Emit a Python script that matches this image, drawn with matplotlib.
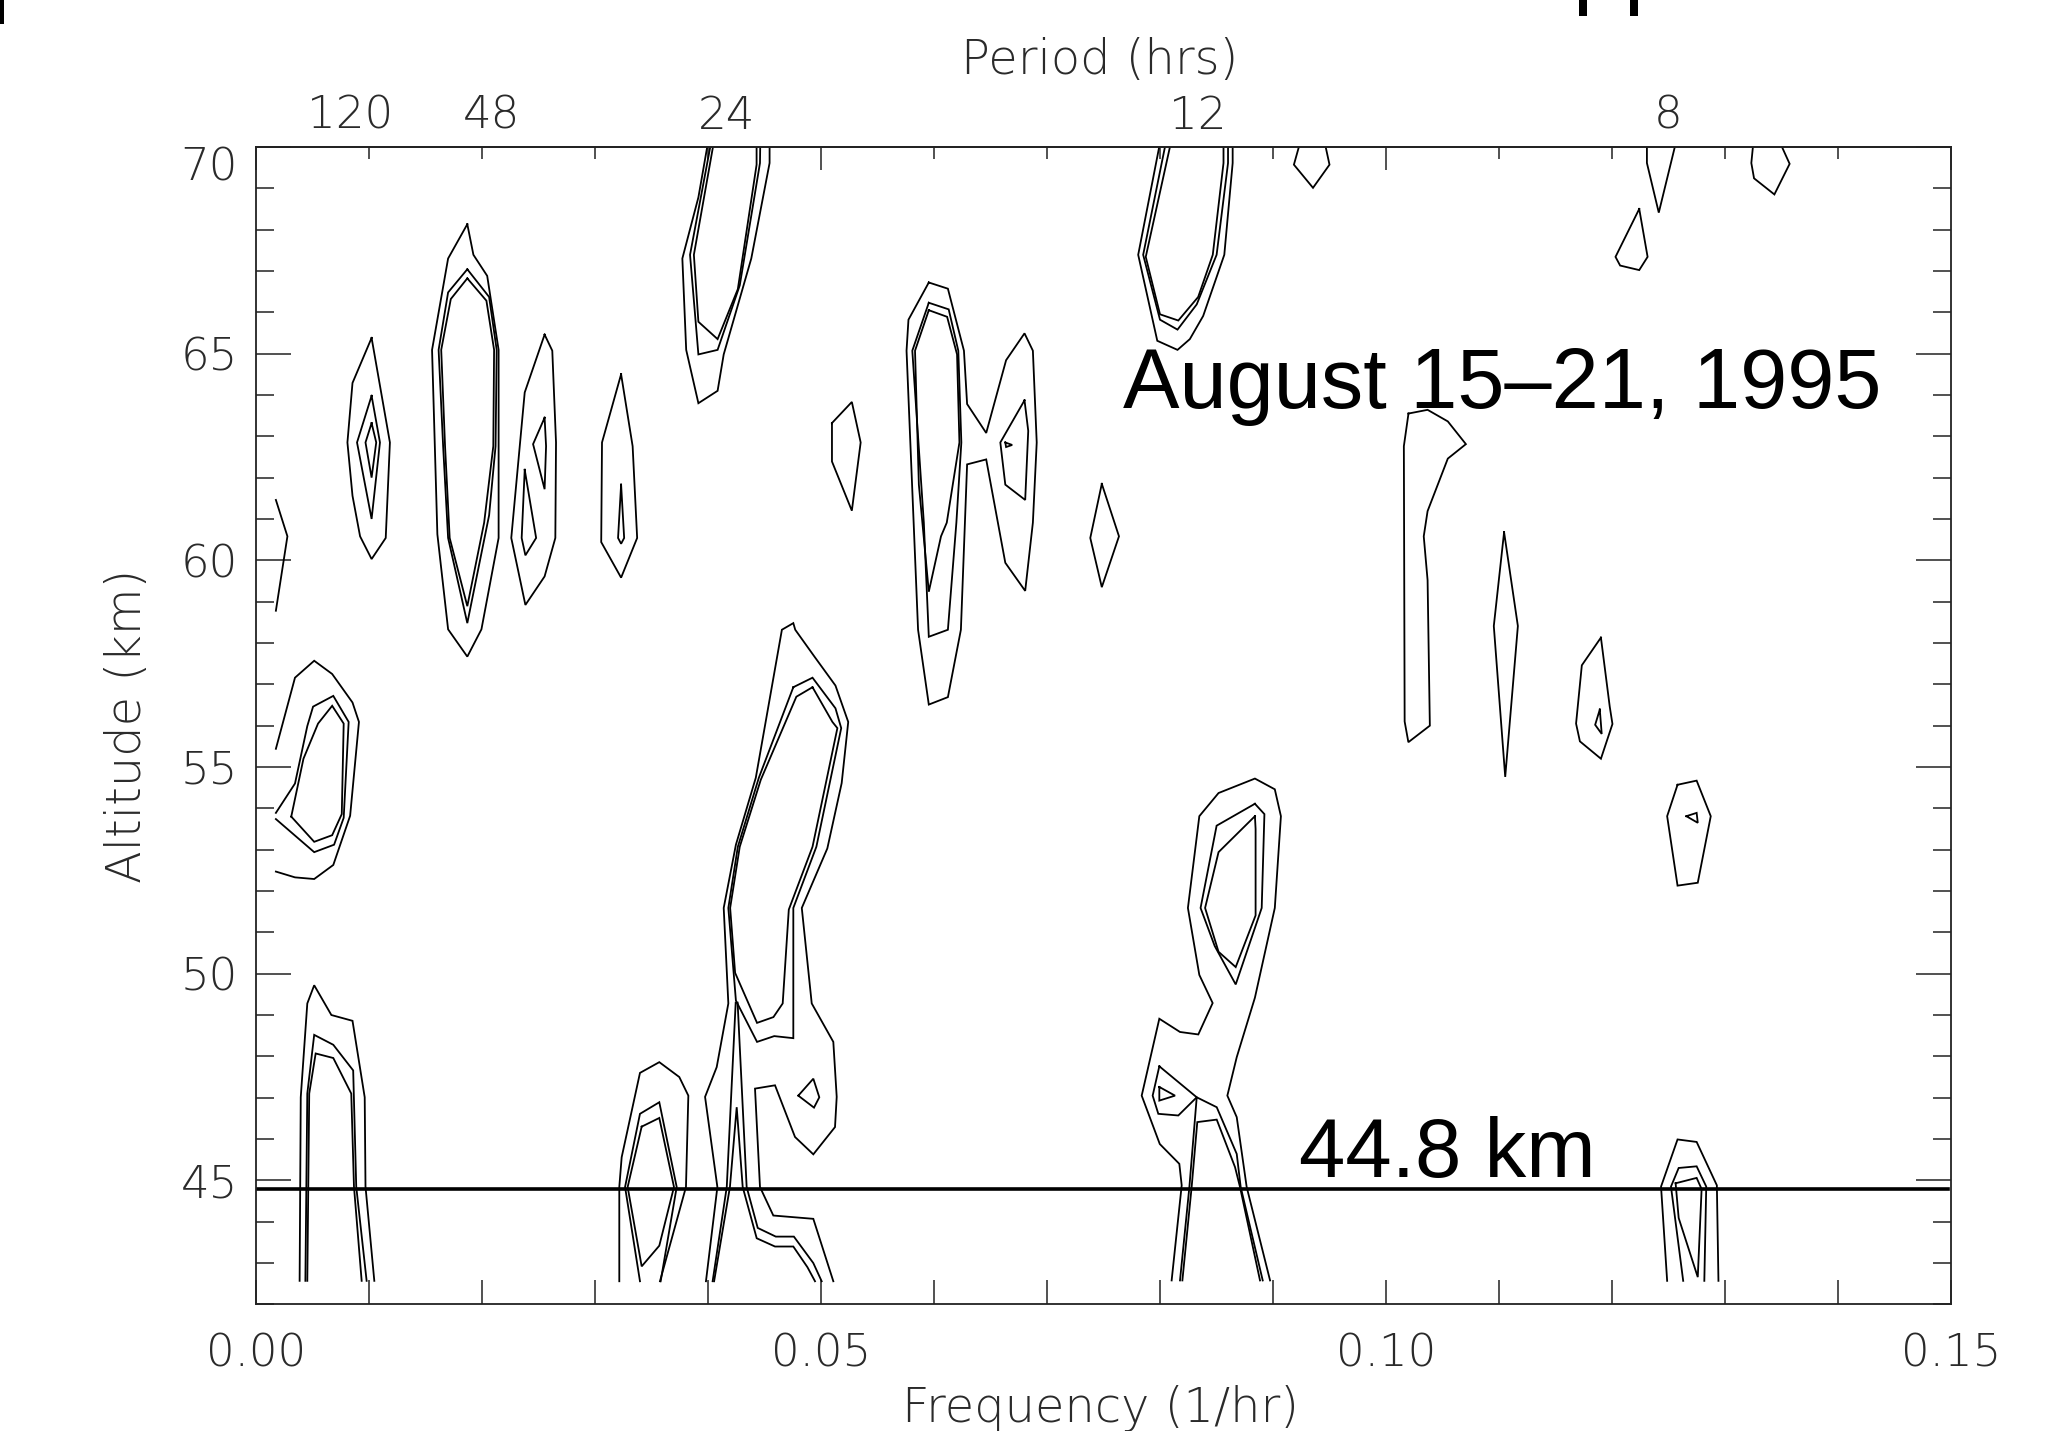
import matplotlib
matplotlib.use("Agg")
import matplotlib.pyplot as plt
from matplotlib.patches import Rectangle
import numpy as np

# ---------------- data ----------------
freq_limits = (0.0, 0.15)
alt_limits = (42.0, 70.0)
freq_major = [0.00, 0.05, 0.10, 0.15]
freq_major_labels = ["0.00", "0.05", "0.10", "0.15"]
alt_major = [45, 50, 55, 60, 65, 70]
alt_major_labels = ["45", "50", "55", "60", "65", "70"]
period_hours = [120, 48, 24, 12, 8]
period_labels = ["120", "48", "24", "12", "8"]
reference_altitude = 44.8
reference_label = "44.8 km"
date_label = "August 15\u201321, 1995"

# closed contour loops (frequency 1/hr, altitude km)
closed_contours = [
    # 120 h blob
    [(0.01023,65.38),(0.00854,64.29),(0.00809,62.85),(0.00854,61.56),(0.00921,60.58),(0.01023,60.03),(0.01148,60.54),(0.01185,62.85)],
    [(0.01023,63.98),(0.00894,62.85),(0.01023,61.00),(0.01097,62.85)],
    [(0.01023,63.32),(0.00969,62.85),(0.01023,62.00),(0.01064,62.85)],
    # 48 h blob
    [(0.01870,68.13),(0.01700,67.30),(0.01558,65.09),(0.01605,60.63),(0.01700,58.33),(0.01870,57.67),(0.01995,58.33),(0.02147,60.54),(0.02147,65.09),(0.02046,66.88),(0.01924,67.39)],
    [(0.01870,67.04),(0.01700,66.48),(0.01616,65.09),(0.01656,62.76),(0.01700,60.54),(0.01870,58.48),(0.02063,61.09),(0.02120,62.76),(0.02130,65.09),(0.02063,66.37)],
    [(0.01870,66.82),(0.01724,66.32),(0.01639,65.09),(0.01673,62.76),(0.01714,60.54),(0.01870,58.89),(0.02019,60.91),(0.02100,62.76),(0.02107,65.09),(0.02039,66.28)],
    # ~0.025
    [(0.02554,65.46),(0.02378,64.06),(0.02259,60.54),(0.02384,58.92),(0.02554,59.61),(0.02649,60.54),(0.02655,62.85),(0.02622,65.07)],
    [(0.02554,63.45),(0.02452,62.81),(0.02554,61.72),(0.02567,62.76)],
    [(0.02378,62.19),(0.02351,60.54),(0.02384,60.12),(0.02479,60.54)],
    # ~0.032
    [(0.03231,64.50),(0.03062,62.85),(0.03055,60.44),(0.03231,59.58),(0.03373,60.54),(0.03333,62.76)],
    [(0.03231,61.83),(0.03204,60.54),(0.03231,60.40),(0.03258,60.54)],
    # low-frequency blob inner
    [(0.00312,53.80),(0.00420,55.20),(0.00549,56.05),(0.00674,56.48),(0.00776,56.05),(0.00759,53.86),(0.00674,53.35),(0.00515,53.19)],
    # ~0.052 diamond
    [(0.05097,63.32),(0.05273,63.83),(0.05351,62.85),(0.05273,61.20),(0.05097,62.39)],
    # ~0.06 / 0.067 pair
    [(0.05954,66.72),(0.06123,66.57),(0.06265,65.07),(0.06293,63.78),(0.06462,63.08),(0.06638,64.84),(0.06801,65.49),(0.06875,65.07),(0.06909,62.85),(0.06875,60.91),(0.06807,59.26),(0.06631,59.94),(0.06462,62.44),(0.06293,62.32),(0.06238,58.32),(0.06123,56.69),(0.05954,56.51),(0.05859,58.32),(0.05757,65.07),(0.05774,65.82)],
    [(0.05954,66.23),(0.06130,66.07),(0.06215,65.07),(0.06242,62.85),(0.06198,60.91),(0.06123,58.32),(0.05954,58.15),(0.05910,60.91),(0.05808,65.07)],
    [(0.05954,66.05),(0.06116,65.89),(0.06204,64.98),(0.06225,62.85),(0.06113,60.91),(0.06062,60.58),(0.05954,59.24),(0.05866,61.83),(0.05832,65.07)],
    [(0.06801,63.87),(0.06587,62.85),(0.06631,61.83),(0.06807,61.46),(0.06834,63.13)],
    [(0.06631,62.85),(0.06692,62.79),(0.06638,62.74)],
    # ~0.075 diamond
    [(0.07485,61.85),(0.07383,60.54),(0.07485,59.35),(0.07637,60.58)],
    # ~0.103 tall blob
    [(0.10199,63.55),(0.10368,63.64),(0.10547,63.36),(0.10707,62.81),(0.10547,62.46),(0.10368,61.19),(0.10334,60.58),(0.10368,59.52),(0.10388,56.00),(0.10198,55.60),(0.10165,56.10),(0.10158,62.76)],
    # ~0.111
    [(0.11045,60.68),(0.10954,58.41),(0.11055,54.76),(0.11167,58.41)],
    # ~0.118
    [(0.11902,58.13),(0.11733,57.46),(0.11682,56.05),(0.11716,55.62),(0.11902,55.20),(0.12004,56.04),(0.11980,56.46)],
    [(0.11892,56.39),(0.11851,56.02),(0.11909,55.80)],
    # ~0.122 top
    [(0.12241,68.50),(0.12031,67.34),(0.12072,67.13),(0.12241,67.02),(0.12315,67.34)],
    # ~0.035 low
    [(0.03413,46.30),(0.03569,46.51),(0.03699,44.84),(0.03569,43.42),(0.03413,42.92),(0.03289,44.84)],
    # 24 h lower blob, upper lobe
    [(0.04755,56.93),(0.04450,54.74),(0.04264,53.07),(0.04180,51.59),(0.04247,49.35),(0.04434,48.35),(0.04586,48.49),(0.04755,48.44),(0.04755,51.59),(0.04959,53.07),(0.05179,55.94),(0.05128,56.42),(0.04925,57.16)],
    [(0.04925,56.93),(0.04782,56.70),(0.04467,54.69),(0.04281,53.07),(0.04196,51.59),(0.04240,50.02),(0.04434,48.81),(0.04579,48.95),(0.04661,49.28),(0.04715,51.55),(0.04925,53.07),(0.05145,55.94),(0.05101,56.09)],
    [(0.04799,47.05),(0.04932,47.46),(0.04985,47.01),(0.04938,46.76)],
    # 12 h lower blob
    [(0.07994,47.76),(0.08325,47.01),(0.08162,46.57),(0.07985,46.61),(0.07935,47.05)],
    [(0.07994,47.26),(0.08133,47.05),(0.07994,46.93)],
    [(0.08840,54.11),(0.08501,53.58),(0.08359,51.59),(0.08484,50.67),(0.08670,49.74),(0.08900,51.59),(0.08924,53.86)],
    [(0.08840,53.81),(0.08518,52.94),(0.08399,51.59),(0.08518,50.53),(0.08670,50.16),(0.08846,51.41),(0.08846,53.50)],
    # 8 h
    [(0.12563,44.93),(0.12749,45.06),(0.12793,44.79),(0.12759,42.66),(0.12590,44.09)],
    [(0.12580,54.57),(0.12749,54.67),(0.12874,53.81),(0.12759,52.20),(0.12580,52.13),(0.12488,53.81)],
    [(0.12658,53.81),(0.12749,53.89),(0.12759,53.65)],
]

# open contour paths (cut by the data/plot boundary)
open_contours = [
    [(0.00176,61.46),(0.00278,60.58),(0.00176,58.78)],
    # 24 h top
    [(0.03993,70.0),(0.03915,68.78),(0.03773,67.30),(0.03807,65.09),(0.03915,63.80),(0.04085,64.10),(0.04139,64.98),(0.04383,67.30),(0.04545,69.61),(0.04545,70.0)],
    [(0.04020,70.0),(0.03841,67.39),(0.03915,64.98),(0.04085,65.09),(0.04281,66.65),(0.04460,69.61),(0.04462,70.0)],
    [(0.04044,70.0),(0.03875,67.39),(0.03915,65.77),(0.04085,65.35),(0.04264,66.56),(0.04430,69.57),(0.04430,70.0)],
    # low-frequency blob
    [(0.00176,55.44),(0.00345,57.16),(0.00515,57.57),(0.00674,57.25),(0.00854,56.56),(0.00911,56.09),(0.00833,53.82),(0.00684,52.63),(0.00515,52.29),(0.00345,52.33),(0.00176,52.47)],
    [(0.00176,53.89),(0.00345,54.60),(0.00454,55.99),(0.00505,56.46),(0.00684,56.72),(0.00820,56.09),(0.00776,53.77),(0.00691,53.12),(0.00515,52.94),(0.00176,53.74)],
    # 12 h top
    [(0.07993,70.0),(0.07807,67.39),(0.07976,65.31),(0.08155,65.09),(0.08264,65.35),(0.08382,65.91),(0.08569,67.39),(0.08643,69.61),(0.08643,70.0)],
    [(0.08044,70.0),(0.07851,67.39),(0.08000,65.82),(0.08155,65.58),(0.08325,66.19),(0.08501,67.39),(0.08602,69.61),(0.08602,70.0)],
    [(0.08088,70.0),(0.07874,67.34),(0.08000,65.95),(0.08162,65.80),(0.08338,66.37),(0.08467,67.39),(0.08562,69.61),(0.08562,70.0)],
    [(0.09229,70.0),(0.09185,69.57),(0.09354,69.01),(0.09500,69.57),(0.09466,70.0)],
    # 8 h top
    [(0.12309,70.0),(0.12309,69.61),(0.12414,68.41),(0.12556,70.0)],
    [(0.13247,70.0),(0.13233,69.61),(0.13257,69.24),(0.13437,68.85),(0.13572,69.59),(0.13504,70.0)],
    # bottom, low frequency
    [(0.00386,42.57),(0.00396,47.01),(0.00454,49.28),(0.00515,49.72),(0.00667,49.00),(0.00854,48.86),(0.00962,47.01),(0.00969,44.85),(0.01047,42.57)],
    [(0.00437,42.57),(0.00454,47.10),(0.00515,48.52),(0.00684,48.28),(0.00860,47.66),(0.00887,44.85),(0.00979,42.57)],
    [(0.00454,42.57),(0.00471,47.10),(0.00528,48.07),(0.00684,47.96),(0.00843,47.10),(0.00867,44.85),(0.00935,42.57)],
    # ~0.035 low
    [(0.03215,42.56),(0.03215,44.84),(0.03236,45.56),(0.03398,47.60),(0.03569,47.86),(0.03746,47.50),(0.03826,47.05),(0.03805,44.84),(0.03575,42.56)],
    [(0.03398,42.56),(0.03266,44.84),(0.03398,46.61),(0.03569,46.89),(0.03723,44.84),(0.03581,42.56)],
    # 24 h lower blob outer
    [(0.03982,42.56),(0.04083,44.84),(0.03974,47.02),(0.04077,47.74),(0.04180,49.28),(0.04139,51.59),(0.04247,53.12),(0.04423,54.74),(0.04654,58.32),(0.04755,58.48),(0.04772,58.32),(0.04942,57.67),(0.05128,56.97),(0.05241,56.09),(0.05183,54.61),(0.05056,53.03),(0.04830,51.59),(0.04918,49.28),(0.05109,48.35),(0.05139,47.02),(0.05124,46.29),(0.04932,45.63),(0.04770,46.05),(0.04593,47.30),(0.04416,47.22),(0.04460,44.84),(0.04578,44.15),(0.04932,44.07),(0.05109,42.56)],
    [(0.04054,42.56),(0.04194,44.84),(0.04254,46.77),(0.04307,44.84),(0.04431,43.60),(0.04593,43.40),(0.04755,43.40),(0.04880,42.90),(0.04947,42.56)],
    [(0.04041,42.56),(0.04166,44.84),(0.04245,49.30),(0.04262,49.30),(0.04342,44.84),(0.04440,43.85),(0.04600,43.64),(0.04760,43.64),(0.04932,43.00),(0.05006,42.56)],
    # 12 h lower blob
    [(0.08103,42.58),(0.08192,44.88),(0.08171,45.40),(0.07998,45.88),(0.07838,47.05),(0.07994,48.91),(0.08177,48.59),(0.08339,48.53),(0.08466,49.29),(0.08348,49.97),(0.08247,51.59),(0.08348,53.81),(0.08518,54.37),(0.08840,54.72),(0.09016,54.46),(0.09070,53.81),(0.09016,51.59),(0.08840,49.42),(0.08679,47.98),(0.08596,47.05),(0.08679,46.53),(0.08767,44.84),(0.08974,42.58)],
    [(0.08177,42.58),(0.08260,44.84),(0.08325,47.01),(0.08502,46.77),(0.08679,45.64),(0.08714,44.84),(0.08909,42.58)],
    [(0.08198,42.58),(0.08280,44.84),(0.08330,46.41),(0.08502,46.47),(0.08664,45.32),(0.08708,44.84),(0.08885,42.58)],
    # 8 h lower
    [(0.12488,42.57),(0.12434,44.85),(0.12580,45.99),(0.12749,45.93),(0.12928,44.88),(0.12942,42.57)],
    [(0.12630,42.57),(0.12522,44.85),(0.12590,45.30),(0.12749,45.34),(0.12834,44.85),(0.12817,42.57)],
]

# ---------------- figure ----------------
W, H, DPI = 2046, 1431, 100
fig = plt.figure(figsize=(W / DPI, H / DPI), dpi=DPI, facecolor="white")
ax = fig.add_axes([256 / W, 1 - 1304.4 / H, 1695 / W, (1304.4 - 146.9) / H])

line_kw = dict(color="black", lw=1.3, solid_joinstyle="miter")
for loop in closed_contours:
    pts = loop + [loop[0]]
    ax.plot([p[0] for p in pts], [p[1] for p in pts], **line_kw)
for path in open_contours:
    ax.plot([p[0] for p in path], [p[1] for p in path], **line_kw)

ax.axhline(reference_altitude, xmin=0.0, xmax=0.998, color="black", lw=2.6)

ax.set_xlim(*freq_limits)
ax.set_ylim(*alt_limits)

TXT = "#2a2a2a"
tick_font = dict(family="DejaVu Sans", size=32.5, color=TXT, weight="light")
ax.set_xticks(freq_major)
ax.set_xticklabels(freq_major_labels, fontdict=tick_font)
ax.set_xticks(np.arange(0.0, 0.1501, 0.01), minor=True)
ax.set_yticks(alt_major)
ylabels = ax.set_yticklabels(alt_major_labels, fontdict=tick_font)
ax.set_yticks(np.arange(42, 70.5, 1.0), minor=True)
for lbl in ylabels:
    if lbl.get_text() == "70":
        lbl.set_verticalalignment("top")

ax.tick_params(axis="x", which="both", direction="in", bottom=True, top=False,
               length=17, width=1.1, pad=20, color="#222222")
ax.tick_params(axis="y", which="major", direction="in", left=True, right=True,
               length=25, width=1.1, pad=13, color="#222222")
ax.tick_params(axis="y", which="minor", direction="in", left=True, right=True,
               length=13, width=1.1, color="#222222")
for s in ax.spines.values():
    s.set_linewidth(1.3)
    s.set_color("#222222")

# top axis: same frequency ticks, shorter, labelled in period
sec = ax.secondary_xaxis("top")
sec.set_xticks(freq_major)
sec.set_xticklabels([])
sec.set_xticks(np.arange(0.0, 0.1501, 0.01), minor=True)
sec.tick_params(axis="x", which="major", direction="in", length=16.5, width=1.1, color="#222222")
sec.tick_params(axis="x", which="minor", direction="in", length=8.3, width=1.1, color="#222222")
sec.spines["top"].set_linewidth(1.3)
sec.spines["top"].set_color("#222222")

xt = ax.get_xaxis_transform()
for p, lab in zip(period_hours, period_labels):
    ax.text(1.0 / p, 1.0155, lab, transform=xt, ha="center", va="baseline",
            fontfamily="DejaVu Sans", fontweight="light", fontsize=32.5, color=TXT)

label_font = dict(fontfamily="DejaVu Sans", fontweight="light", fontsize=34.5, color=TXT)
ax.text(0.498, 1.0632, "Period (hrs)", transform=ax.transAxes, ha="center", va="baseline", **label_font)
ax.text(0.498, -0.102, "Frequency (1/hr)", transform=ax.transAxes, ha="center", va="baseline", **label_font)
ax.text(-0.0761, 0.5, "Altitude (km)", transform=ax.transAxes, ha="center", va="center",
        rotation=90, **label_font)

ax.text(0.07671, 63.68, date_label, ha="left", va="baseline",
        fontfamily="Liberation Sans", fontsize=61, color="black")
ax.text(0.09229, 45.07, reference_label, ha="left", va="baseline",
        fontfamily="Liberation Sans", fontsize=60, color="black")

# fragments of the slide above, cropped at the top edge
for (x0, w, h) in [(0, 4, 24), (1579, 8, 16), (1630, 8, 16)]:
    fig.add_artist(Rectangle((x0 / W, 1 - h / H), w / W, h / H, transform=fig.transFigure,
                             facecolor="black", edgecolor="none"))

fig.savefig("out.png", dpi=DPI, facecolor="white")
